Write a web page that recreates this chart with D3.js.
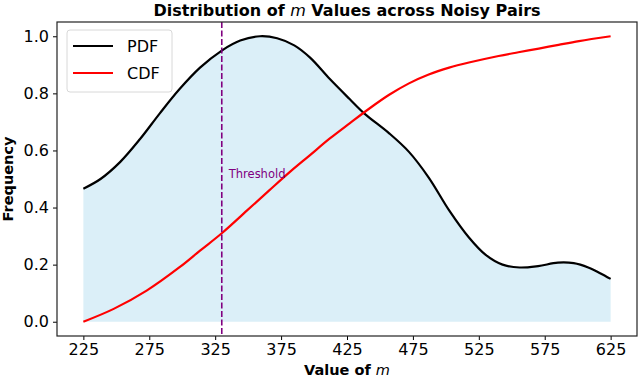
<!DOCTYPE html>
<html>
<head>
<meta charset="utf-8">
<script src="https://cdn.jsdelivr.net/npm/d3@7"></script>
<style>
  body { margin: 0; background: #fff; }
  text { font-family: "DejaVu Sans", sans-serif; }
</style>
</head>
<body>
<svg id="svg1" width="640" height="378"></svg>
<script>
// PDF values (normalised)
var pdfX = [225, 238, 253, 268, 283, 298, 313.5, 330, 344, 359, 372, 385, 397, 412, 427, 438, 457, 472, 487, 502.5, 517.5, 530, 543, 556, 570, 585, 597, 608, 617, 625];
var pdfY = [0.466, 0.500, 0.560, 0.640, 0.730, 0.815, 0.890, 0.950, 0.985, 1.0, 0.993, 0.968, 0.925, 0.850, 0.780, 0.730, 0.660, 0.595, 0.505, 0.390, 0.295, 0.235, 0.200, 0.190, 0.195, 0.207, 0.205, 0.190, 0.170, 0.150];

// CDF values
var cdfX = [225, 248, 273, 298, 313.5, 330, 349, 366, 381.5, 396.5, 412, 427, 442, 457, 472, 487, 502.5, 517.5, 540, 555, 570.5, 585.5, 601, 625];
var cdfY = [0.0, 0.045, 0.109, 0.191, 0.249, 0.310, 0.389, 0.460, 0.524, 0.582, 0.642, 0.695, 0.747, 0.795, 0.835, 0.866, 0.890, 0.908, 0.931, 0.944, 0.957, 0.970, 0.983, 1.0];

var threshold = 330;
var xTicks = [225, 275, 325, 375, 425, 475, 525, 575, 625];
var yTicks = [0.0, 0.2, 0.4, 0.6, 0.8, 1.0];

var marginLeft = 57;
var marginTop = 22;
var plotW = 580;
var plotH = 314;

var svg = d3.select('svg')
    .append('g')
    .attr('transform', 'translate(' + marginLeft + ',' + marginTop + ')');

var x = d3.scaleLinear().domain([205, 645]).range([0, plotW]);
var y = d3.scaleLinear().domain([-0.05, 1.05]).range([plotH, 0]);

var pdf = pdfX.map(function(v, i) { return {x: v, y: pdfY[i]}; });
var cdf = cdfX.map(function(v, i) { return {x: v, y: cdfY[i]}; });

// shaded area under the pdf
var area = d3.area()
    .x(function(d) { return x(d.x); })
    .y0(y(0))
    .y1(function(d) { return y(d.y); })
    .curve(d3.curveCatmullRom.alpha(0.5));

svg.append('path')
   .datum(pdf)
   .attr('d', area)
   .attr('fill', '#dbeff8');

var line = d3.line()
    .x(function(d) { return x(d.x); })
    .y(function(d) { return y(d.y); })
    .curve(d3.curveCatmullRom.alpha(0.5));

svg.append('path')
   .datum(pdf)
   .attr('d', line)
   .attr('fill', 'none')
   .attr('stroke', 'black')
   .attr('stroke-width', 2.2);

svg.append('path')
   .datum(cdf)
   .attr('d', line)
   .attr('fill', 'none')
   .attr('stroke', 'red')
   .attr('stroke-width', 2.2);

// threshold
svg.append('line')
   .attr('x1', x(threshold)).attr('x2', x(threshold))
   .attr('y1', 0).attr('y2', plotH)
   .attr('stroke', 'purple')
   .attr('stroke-width', 1.6)
   .attr('stroke-dasharray', '6,2.5');

svg.append('text')
   .attr('x', x(threshold) + 7)
   .attr('y', y(0.503))
   .attr('font-size', 11.5)
   .attr('fill', 'purple')
   .text('Threshold');

// axes
var xAxis = svg.append('g')
   .attr('transform', 'translate(0,' + plotH + ')')
   .call(d3.axisBottom(x).tickValues(xTicks).tickSize(4).tickPadding(4));

var yAxis = svg.append('g')
   .call(d3.axisLeft(y).tickValues(yTicks).tickFormat(d3.format('.1f')).tickSize(4).tickPadding(4));

[xAxis, yAxis].forEach(function(a) {
  a.select('.domain').remove();
  a.selectAll('text').attr('font-size', 16).attr('fill', 'black')
   .style('font-family', '"DejaVu Sans", sans-serif');
  a.selectAll('line').attr('stroke', 'black').attr('stroke-width', 1);
});

svg.append('rect')
   .attr('x', 0).attr('y', 0)
   .attr('width', plotW).attr('height', plotH)
   .attr('fill', 'none')
   .attr('stroke', '#222')
   .attr('stroke-width', 1.2);

// legend
var legend = svg.append('g').attr('transform', 'translate(10,8)');
legend.append('rect')
   .attr('width', 105).attr('height', 62)
   .attr('rx', 3)
   .attr('fill', 'white').attr('fill-opacity', 0.8)
   .attr('stroke', '#d8d8d8');

var legItems = [{name: 'PDF', color: 'black'}, {name: 'CDF', color: 'red'}];
legItems.forEach(function(d, i) {
  var ly = 16 + i * 27;
  legend.append('line')
     .attr('x1', 6).attr('x2', 46)
     .attr('y1', ly).attr('y2', ly)
     .attr('stroke', d.color).attr('stroke-width', 2.2);
  legend.append('text')
     .attr('x', 60).attr('y', ly + 6)
     .attr('font-size', 16)
     .text(d.name);
});

// titles
var title = d3.select('svg').append('text')
   .attr('x', marginLeft + plotW / 2)
   .attr('y', 16)
   .attr('text-anchor', 'middle')
   .attr('font-size', 16)
   .attr('font-weight', 'bold');
title.append('tspan').text('Distribution of ');
title.append('tspan').attr('font-style', 'italic').attr('font-weight', 'normal').text('m');
title.append('tspan').text(' Values across Noisy Pairs');

var xl = d3.select('svg').append('text')
   .attr('x', marginLeft + plotW / 2)
   .attr('y', 375)
   .attr('text-anchor', 'middle')
   .attr('font-size', 14.5)
   .attr('font-weight', 'bold');
xl.append('tspan').text('Value of ');
xl.append('tspan').attr('font-style', 'italic').attr('font-weight', 'normal').text('m');

d3.select('svg').append('text')
   .attr('transform', 'translate(13,' + (marginTop + plotH / 2) + ') rotate(-90)')
   .attr('text-anchor', 'middle')
   .attr('font-size', 14.5)
   .attr('font-weight', 'bold')
   .text('Frequency');
</script>
</body>
</html>
